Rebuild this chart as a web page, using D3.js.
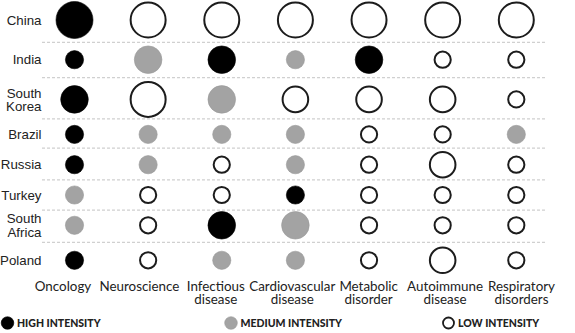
<!DOCTYPE html>
<html><head><meta charset="utf-8">
<script src="https://cdn.jsdelivr.net/npm/d3@7"></script>
<style>
html,body{margin:0;padding:0;background:#fff;}
svg{display:block;}
</style></head>
<body>
<script>
const countries = ["China","India","South Korea","Brazil","Russia","Turkey","South Africa","Poland"];
const areas = ["Oncology","Neuroscience","Infectious disease","Cardiovascular disease","Metabolic disorder","Autoimmune disease","Respiratory disorders"];
// intensity: H = high, M = medium, L = low
const intensity = [
  ["H","L","L","L","L","L","L"],
  ["H","M","H","M","H","L","L"],
  ["H","L","M","L","L","L","L"],
  ["H","M","M","M","L","L","M"],
  ["H","M","L","M","L","L","L"],
  ["M","L","L","H","L","L","L"],
  ["M","L","H","M","L","L","L"],
  ["H","L","M","M","L","L","L"]
];
// relative circle size (1 small, 2 medium, 3 large)
const sizes = [
  [3,3,3,3,3,3,3],
  [1,2,2,1,2,1,1],
  [2,3,2,2,2,2,1],
  [1,1,1,1,1,1,1],
  [1,1,1,1,1,2,1],
  [1,1,1,1,1,1,1],
  [1,1,2,2,1,1,1],
  [1,1,1,1,1,2,1]
];
const legendItems = [["H","HIGH INTENSITY"],["M","MEDIUM INTENSITY"],["L","LOW INTENSITY"]];

const W = 575, H = 333;
const svg = d3.select("body").append("svg").attr("width", W).attr("height", H);

const x = d3.scalePoint().domain(areas).range([74.5, 516.3]);
const xLab = d3.scalePoint().domain(areas).range([63, 521.5]);
const r = d3.scaleLinear().domain([1,3]).range([9.1, 18.5]);
const fill = {H:"#000", M:"#a3a3a3", L:"#fff"};

// row layout driven by the largest circle of each row
const rowMax = sizes.map(row => r(d3.max(row)));
const pad = 7.4;
const rowY = [];
rowMax.forEach((m,i) => {
  if (i === 0) rowY.push(1.5 + m);
  else rowY.push(rowY[i-1] + rowMax[i-1] + m + pad);
});
const y = d3.scaleOrdinal().domain(countries).range(rowY);

// separators
const seps = countries.slice(1).map((c,i) => (y(countries[i]) + y(c)) / 2 + [2.5,-2,2,-1.5,0,0,-0.5][i]);
svg.append("g").selectAll("line").data(seps).join("line")
  .attr("x1", 42).attr("x2", 545).attr("y1", d => d).attr("y2", d => d)
  .attr("stroke", "#d0d0d0").attr("stroke-width", 1.2).attr("stroke-dasharray", "3,2");

// circles
const cells = [];
countries.forEach((c,i) => areas.forEach((a,j) => cells.push({c, a, k: intensity[i][j], s: sizes[i][j]})));
svg.append("g").selectAll("circle").data(cells).join("circle")
  .attr("cx", d => x(d.a)).attr("cy", d => y(d.c))
  .attr("r", d => d.k === "L" ? r(d.s) - 1 : r(d.s))
  .attr("fill", d => fill[d.k])
  .attr("stroke", d => d.k === "L" ? "#1c1c1c" : (d.k === "M" ? "#999" : "#000"))
  .attr("stroke-width", d => d.k === "L" ? 2 : 0.6);

// country labels
const yl = svg.append("g").attr("font-family", "Liberation Sans, Arial, sans-serif").attr("font-size", 13.3).attr("fill", "#222");
countries.forEach(c => {
  const parts = c.split(" ");
  const t = yl.append("text").attr("text-anchor", "end").attr("x", 41.5);
  const lh = 13.2;
  const y0 = y(c) - (parts.length - 1) * lh / 2 + 4.7;
  parts.forEach((p,k) => t.append("tspan").attr("x", 41.5).attr("y", y0 + k*lh).text(p));
});

// area labels
const xl = svg.append("g").attr("font-family", "Lato, 'Open Sans', sans-serif").attr("font-size", 13.4).attr("fill", "#222");
areas.forEach(a => {
  const parts = a.split(" ");
  const t = xl.append("text").attr("text-anchor", "middle");
  parts.forEach((p,k) => t.append("tspan").attr("x", xLab(a)).attr("y", 290.5 + k*13.8).text(p));
});

// legend
const lx = d3.scaleOrdinal().domain(["H","M","L"]).range([7.5, 231, 448.5]);
const lg = svg.append("g").attr("font-family", "Lato, sans-serif").attr("font-weight", 900).attr("font-size", 10.5).attr("fill", "#222");
legendItems.forEach(([k,label]) => {
  lg.append("circle").attr("cx", lx(k)).attr("cy", 323)
    .attr("r", k === "L" ? 5.5 : 6.3)
    .attr("fill", fill[k])
    .attr("stroke", k === "L" ? "#1c1c1c" : (k === "M" ? "#999" : "#000"))
    .attr("stroke-width", k === "L" ? 1.8 : 0.6);
  lg.append("text").attr("x", lx(k) + 9.5).attr("y", 326.8).text(label);
});
</script>
</body></html>
